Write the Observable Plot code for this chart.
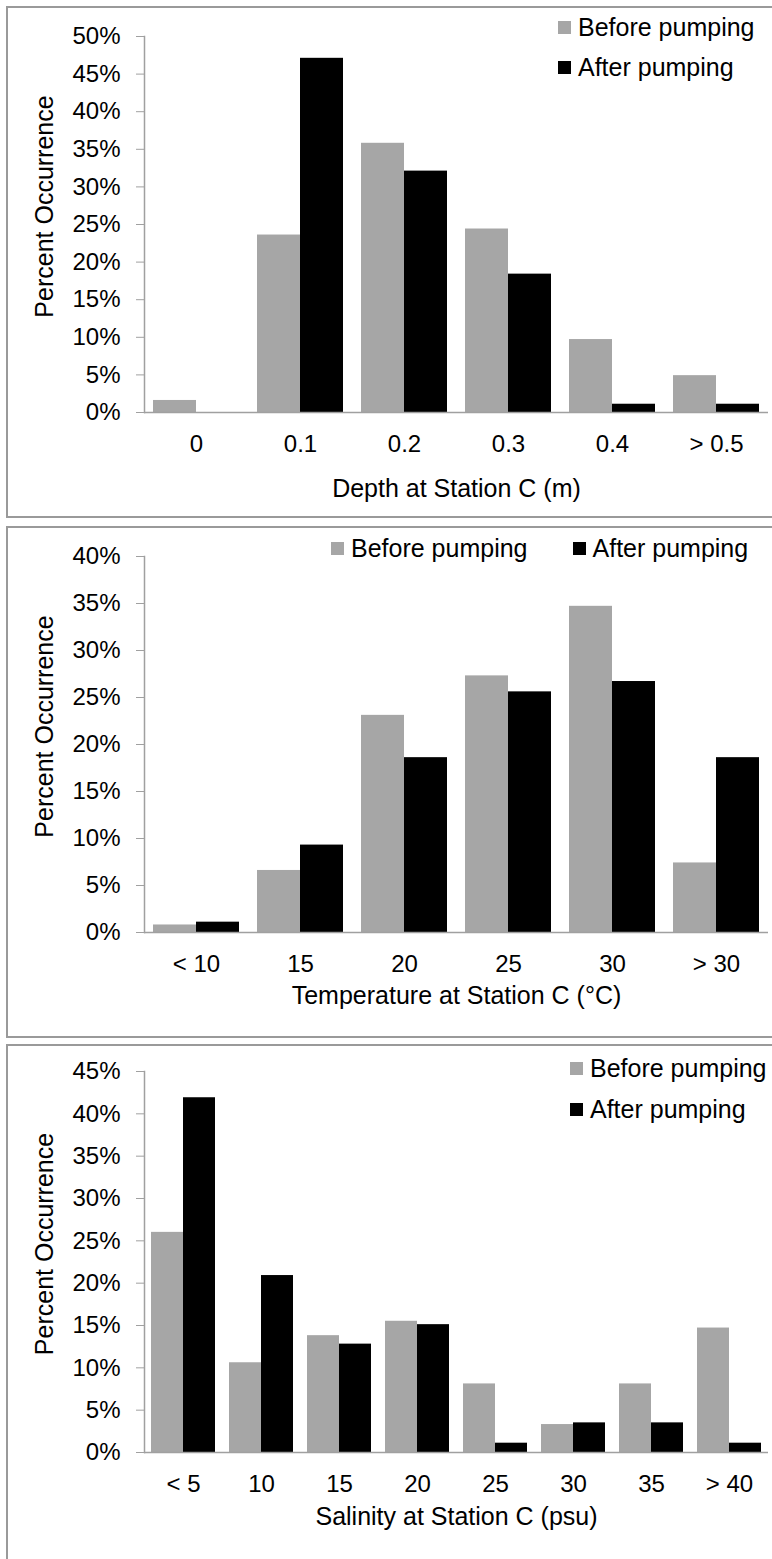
<!DOCTYPE html>
<html>
<head>
<meta charset="utf-8">
<script src="https://cdn.jsdelivr.net/npm/d3@7"></script>
<script src="https://cdn.jsdelivr.net/npm/@observablehq/plot@0.6"></script>
<style>
  body { margin: 0; background: #fff; font-family: "Liberation Sans", Arial, sans-serif; }
  #page { position: relative; width: 772px; height: 1559px; overflow: hidden; background: #fff; }
  .box { position: absolute; border: 2px solid #9a9a9a; box-sizing: border-box; }
  .chart { position: absolute; left: 0; }
  .legend { position: absolute; display: flex; font-size: 25px; line-height: 24px; color: #000; }
  .legend .item { display: flex; align-items: center; white-space: nowrap; }
  .legend .sw { display: inline-block; width: 13px; height: 13px; margin-right: 7px; }
</style>
</head>
<body>
<div id="page"></div>
<script>
// Series shared by all three histograms
const series = ["Before pumping", "After pumping"];
const seriesColors = ["#a6a6a6", "#000000"];
const yTitle = "Percent Occurrence";

// Depth (m)
const depthCategories = ["0", "0.1", "0.2", "0.3", "0.4", "> 0.5"];
const depthBefore = [1.6, 23.6, 35.8, 24.4, 9.7, 4.9];
const depthAfter = [0, 47.1, 32.1, 18.4, 1.1, 1.1];
const depthTicks = [0, 5, 10, 15, 20, 25, 30, 35, 40, 45, 50];

// Temperature (°C)
const tempCategories = ["< 10", "15", "20", "25", "30", "> 30"];
const tempBefore = [0.8, 6.6, 23.1, 27.3, 34.7, 7.4];
const tempAfter = [1.1, 9.3, 18.6, 25.6, 26.7, 18.6];
const tempTicks = [0, 5, 10, 15, 20, 25, 30, 35, 40];

// Salinity (psu)
const salCategories = ["< 5", "10", "15", "20", "25", "30", "35", "> 40"];
const salBefore = [26.0, 10.6, 13.8, 15.5, 8.1, 3.3, 8.1, 14.7];
const salAfter = [41.9, 20.9, 12.8, 15.1, 1.1, 3.5, 3.5, 1.1];
const salTicks = [0, 5, 10, 15, 20, 25, 30, 35, 40, 45];

function table(categories, before, after) {
  return categories.flatMap((c, i) => [
    {category: c, series: series[0], value: before[i]},
    {category: c, series: series[1], value: after[i]}
  ]);
}

const panels = [
  {categories: depthCategories, before: depthBefore, after: depthAfter, ticks: depthTicks,
   xTitle: "Depth at Station C (m)",
   box: {top: 6, height: 512}, top: 0, height: 517, marginTop: 36, marginBottom: 105, titleOffset: 76,
   legend: {left: 558, top: 15, dir: "column", gap: 16}},
  {categories: tempCategories, before: tempBefore, after: tempAfter, ticks: tempTicks,
   xTitle: "Temperature at Station C (°C)",
   box: {top: 526, height: 512}, top: 520, height: 517, marginTop: 36, marginBottom: 105, titleOffset: 63,
   legend: {left: 331, top: 536, dir: "row", gap: 45}},
  {categories: salCategories, before: salBefore, after: salAfter, ticks: salTicks,
   xTitle: "Salinity at Station C (psu)",
   box: {top: 1044, height: 600}, top: 1040, height: 519, marginTop: 31, marginBottom: 107, titleOffset: 64,
   legend: {left: 570, top: 1056, dir: "column", gap: 17}}
];

const page = document.getElementById("page");
const axisGray = "#a0a0a0";
const font = "'Liberation Sans', Arial, sans-serif";

for (const p of panels) {
  const box = document.createElement("div");
  box.className = "box";
  Object.assign(box.style, {left: "6px", top: p.box.top + "px", width: "800px", height: p.box.height + "px"});
  page.appendChild(box);

  const data = table(p.categories, p.before, p.after);
  const yMax = p.ticks[p.ticks.length - 1];

  const chart = Plot.plot({
    width: 772,
    height: p.height,
    marginLeft: 143,
    marginRight: 4,
    marginTop: p.marginTop,
    marginBottom: p.marginBottom,
    style: {fontFamily: font, fontSize: "24px", color: "#000", background: "transparent", overflow: "visible"},
    fx: {domain: p.categories, padding: 0, label: null, tickSize: 0, tickPadding: 22},
    x: {domain: series, axis: null, paddingInner: 0, paddingOuter: 0.2},
    y: {domain: [0, yMax], label: null},
    color: {domain: series, range: seriesColors},
    marks: [
      Plot.barY(data, {fx: "category", x: "series", y: "value", fill: "series"}),
      Plot.ruleY([0], {stroke: axisGray, strokeWidth: 1.5}),
      Plot.frame({anchor: "left", stroke: axisGray, strokeWidth: 1.5, facet: "super"}),
      Plot.axisY({ticks: p.ticks, tickFormat: d => d + "%", tickSize: 8, tickPadding: 16, label: null,
                  stroke: axisGray, fill: "#000", fontSize: 24}),
      Plot.text([p.xTitle], {text: d => d, frameAnchor: "bottom", dy: p.titleOffset, textAnchor: "middle",
                             lineAnchor: "middle", fontSize: 25, fill: "#000", facet: "super"}),
      Plot.text([yTitle], {text: d => d, frameAnchor: "left", rotate: -90, dx: -100, dy: -18,
                           textAnchor: "middle", lineAnchor: "middle", fontSize: 25, fill: "#000", facet: "super"})
    ]
  });
  chart.classList.add("chart");
  chart.style.top = p.top + "px";
  page.appendChild(chart);

  // Legend swatches
  const legend = document.createElement("div");
  legend.className = "legend";
  Object.assign(legend.style, {left: p.legend.left + "px", top: p.legend.top + "px",
                               flexDirection: p.legend.dir, gap: p.legend.gap + "px"});
  series.forEach((s, i) => {
    const item = document.createElement("div");
    item.className = "item";
    const sw = document.createElement("span");
    sw.className = "sw";
    sw.style.background = seriesColors[i];
    const label = document.createElement("span");
    label.textContent = s;
    item.append(sw, label);
    legend.appendChild(item);
  });
  page.appendChild(legend);
}
</script>
</body>
</html>
